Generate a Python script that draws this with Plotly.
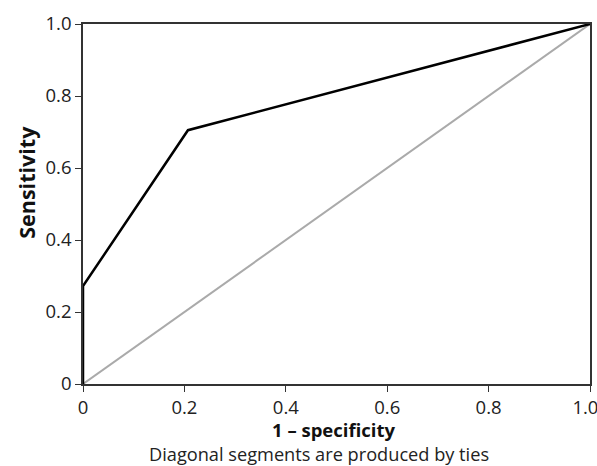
import plotly.graph_objects as go

fpr = [0.0, 0.0, 0.207, 1.0]
tpr = [0.0, 0.272, 0.705, 1.0]
ref_x = [0.0, 1.0]
ref_y = [0.0, 1.0]
tick_vals = [0, 0.2, 0.4, 0.6, 0.8, 1.0]
y_tick_text = ["0", "0.2", "0.4", "0.6", "0.8", "1.0"]
x_tick_text = ["0", "0.2", "0.4", "0.6", "0.8", "1.0\u2002"]

fig = go.Figure()
fig.add_trace(go.Scatter(x=ref_x, y=ref_y, mode="lines",
                         line=dict(color="#aaaaaa", width=2), showlegend=False))
fig.add_trace(go.Scatter(x=fpr, y=tpr, mode="lines",
                         line=dict(color="#000000", width=2.5), showlegend=False))

font = "Open Sans"
axis_common = dict(range=[0, 1], tickvals=tick_vals,
                   showgrid=False, zeroline=False, showline=True, mirror=True,
                   linecolor="#333333", linewidth=1.5, ticks="outside", ticklen=6,
                   tickcolor="#333333", tickwidth=1.2, automargin=False,
                   ticklabeloverflow="allow",
                   tickfont=dict(family=font, size=18.5, color="#222222"))

fig.update_xaxes(**axis_common, ticktext=x_tick_text)
fig.update_yaxes(**axis_common, ticktext=y_tick_text)

fig.add_annotation(text="<b>Sensitivity</b>", textangle=-90,
                   x=-0.113, xref="paper", xanchor="center",
                   y=0.561, yref="paper", yanchor="middle", borderpad=0,
                   showarrow=False, font=dict(family=font, size=21.5, color="#111111"))
fig.add_annotation(text="<b>1 – specificity</b>",
                   x=0.495, xref="paper", xanchor="center",
                   y=-0.088, yref="paper", yanchor="top", borderpad=0,
                   showarrow=False, font=dict(family=font, size=18.5, color="#111111"))
fig.add_annotation(text="Diagonal segments are produced by ties",
                   x=0.4645, xref="paper", xanchor="center",
                   y=-0.157, yref="paper", yanchor="top", borderpad=0,
                   showarrow=False, font=dict(family=font, size=18.2, color="#222222"))

fig.update_layout(width=597, height=466, plot_bgcolor="white", paper_bgcolor="white",
                  margin=dict(l=83, r=7, t=24, b=82))

fig.write_html("out.html", config={"displayModeBar": False},
               post_script="document.body.style.margin='0';")
